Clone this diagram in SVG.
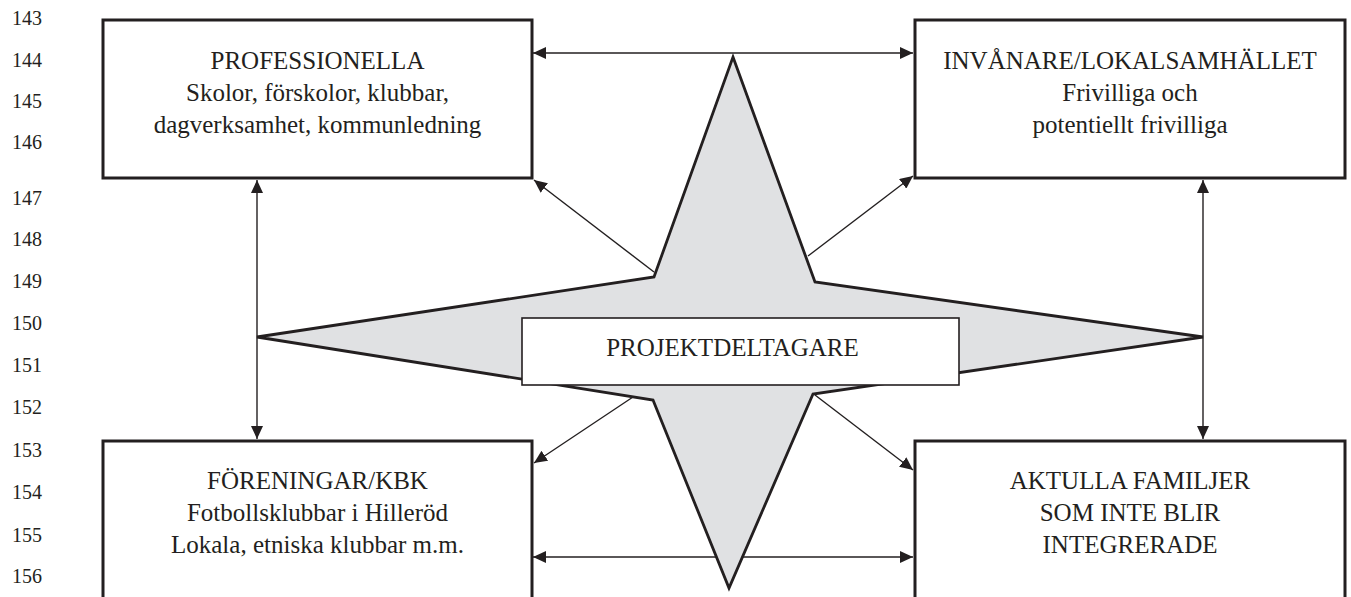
<svg xmlns="http://www.w3.org/2000/svg" width="1351" height="597" viewBox="0 0 1351 597">
<style>
text{font-family:"Liberation Serif","Times New Roman","DejaVu Serif",serif;fill:#231f20}
.num{font-size:20px}
.lbl{font-size:25px;text-anchor:middle}
.box{fill:#fff;stroke:#231f20;stroke-width:3}
.conn{stroke:#231f20;stroke-width:1.4;fill:none}
</style>
<defs>
<marker id="ah" viewBox="0 0 13 12" refX="13" refY="6" markerWidth="13" markerHeight="12" markerUnits="userSpaceOnUse" orient="auto-start-reverse">
<path d="M0,0 L13,6 L0,12 z" fill="#231f20"/>
</marker>
</defs>
<g id="line-numbers" class="num" font-family="Liberation Serif, serif">
<text x="12" y="25">143</text>
<text x="12" y="67">144</text>
<text x="12" y="108">145</text>
<text x="12" y="149">146</text>
<text x="12" y="205">147</text>
<text x="12" y="246">148</text>
<text x="12" y="288">149</text>
<text x="12" y="330">150</text>
<text x="12" y="372">151</text>
<text x="12" y="414">152</text>
<text x="12" y="457">153</text>
<text x="12" y="499">154</text>
<text x="12" y="542">155</text>
<text x="12" y="583">156</text>
</g>
<g id="connectors" class="conn">
<line x1="533" y1="53" x2="913" y2="53" marker-start="url(#ah)" marker-end="url(#ah)"/>
<line x1="533" y1="557" x2="913" y2="557" marker-start="url(#ah)" marker-end="url(#ah)"/>
<line x1="257" y1="180" x2="257" y2="439" marker-start="url(#ah)" marker-end="url(#ah)"/>
<line x1="1203" y1="180" x2="1203" y2="439" marker-start="url(#ah)" marker-end="url(#ah)"/>
<line x1="654" y1="272" x2="534" y2="180" marker-end="url(#ah)"/>
<line x1="808" y1="256" x2="913" y2="176" marker-end="url(#ah)"/>
<line x1="633" y1="397" x2="534" y2="463" marker-end="url(#ah)"/>
<line x1="815" y1="395" x2="913" y2="470" marker-end="url(#ah)"/>
</g>
<g id="star">
<polygon points="733,57 815,282 1203,337 813,394 729,588 653,400 257,337 654,277" fill="#e0e1e3" stroke="#231f20" stroke-width="2.8" stroke-linejoin="miter"/>
</g>
<g id="projektdeltagare">
<rect x="522" y="318" width="437" height="67" fill="#fff" stroke="#231f20" stroke-width="1.6"/>
<text class="lbl" x="732.5" y="356">PROJEKTDELTAGARE</text>
</g>
<g id="professionella">
<rect class="box" x="103" y="20" width="429" height="158"/>
<text class="lbl" x="317.5" y="69">PROFESSIONELLA</text>
<text class="lbl" x="317.5" y="101">Skolor, förskolor, klubbar,</text>
<text class="lbl" x="317.5" y="133">dagverksamhet, kommunledning</text>
</g>
<g id="invanare">
<rect class="box" x="915" y="20" width="430" height="158"/>
<text class="lbl" x="1130" y="69">INVÅNARE/LOKALSAMHÄLLET</text>
<text class="lbl" x="1130" y="101">Frivilliga och</text>
<text class="lbl" x="1130" y="133">potentiellt frivilliga</text>
</g>
<g id="foreningar">
<rect class="box" x="103" y="441" width="429" height="170"/>
<text class="lbl" x="317.5" y="489">FÖRENINGAR/KBK</text>
<text class="lbl" x="317.5" y="521">Fotbollsklubbar i Hilleröd</text>
<text class="lbl" x="317.5" y="553">Lokala, etniska klubbar m.m.</text>
</g>
<g id="aktulla-familjer">
<rect class="box" x="915" y="441" width="430" height="170"/>
<text class="lbl" x="1130" y="489">AKTULLA FAMILJER</text>
<text class="lbl" x="1130" y="521">SOM INTE BLIR</text>
<text class="lbl" x="1130" y="553">INTEGRERADE</text>
</g>
</svg>
